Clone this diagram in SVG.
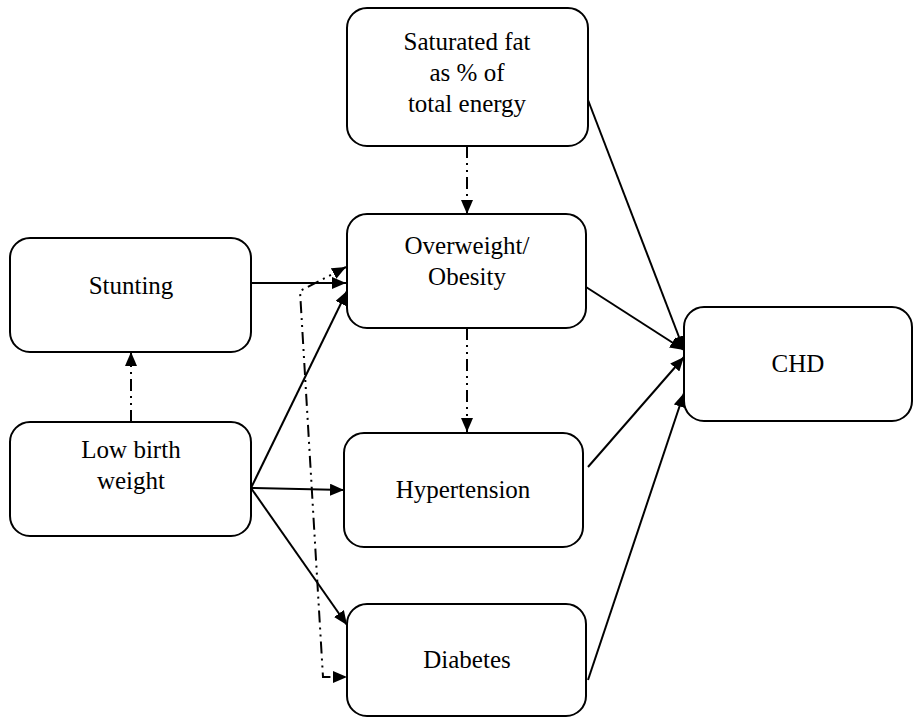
<svg xmlns="http://www.w3.org/2000/svg" width="915" height="718" viewBox="0 0 915 718">
<style>
.box{fill:#fff;stroke:#000;stroke-width:2}
text{font-family:'Liberation Serif','Times New Roman',serif;font-size:25px;fill:#000;text-anchor:middle}
.c{fill:none;stroke:#000;stroke-width:2}
.dd{fill:none;stroke:#000;stroke-width:2;stroke-dasharray:12 5 2 5 2 5}
</style>
<defs>
<marker id="ah" viewBox="0 0 14 12" refX="14" refY="6" markerWidth="14" markerHeight="12" markerUnits="userSpaceOnUse" orient="auto-start-reverse">
<path d="M0,0 L14,6 L0,12 Z" fill="#000"/>
</marker>
</defs>
<rect width="915" height="718" fill="#fff"/>
<g id="satfat"><rect class="box" x="347" y="8" width="241" height="138" rx="20"/>
<text x="467" y="50">Saturated fat</text><text x="467" y="81">as % of</text><text x="467" y="112">total energy</text></g>
<g id="overweight"><rect class="box" x="347" y="214" width="239" height="114" rx="20"/>
<text x="467" y="254">Overweight/</text><text x="467" y="285">Obesity</text></g>
<g id="stunting"><rect class="box" x="10" y="238" width="241" height="114" rx="20"/>
<text x="131" y="294">Stunting</text></g>
<g id="lbw"><rect class="box" x="10" y="422" width="241" height="114" rx="20"/>
<text x="131" y="458">Low birth</text><text x="131" y="489">weight</text></g>
<g id="hypertension"><rect class="box" x="344" y="433" width="239" height="114" rx="20"/>
<text x="463" y="498">Hypertension</text></g>
<g id="diabetes"><rect class="box" x="347" y="604" width="239" height="112" rx="20"/>
<text x="467" y="668">Diabetes</text></g>
<g id="chd"><rect class="box" x="684" y="307" width="228" height="114" rx="20"/>
<text x="798" y="372">CHD</text></g>
<g id="connectors">
<path class="dd" d="M467,146 L467,214" marker-end="url(#ah)"/>
<path class="dd" d="M467,328 L467,432" marker-end="url(#ah)"/>
<path class="dd" d="M131,422 L131,352" marker-end="url(#ah)"/>
<path class="dd" d="M346,267 L300,291 L323,677 L347,677" marker-start="url(#ah)" marker-end="url(#ah)"/>
<path class="c" d="M251,283 L346,283" marker-end="url(#ah)"/>
<path class="c" d="M251,488 L347,291" marker-end="url(#ah)"/>
<path class="c" d="M251,488 L344,490" marker-end="url(#ah)"/>
<path class="c" d="M251,488 L347,625" marker-end="url(#ah)"/>
<path class="c" d="M588,100 L684,350" marker-end="url(#ah)"/>
<path class="c" d="M586,287 L684,350" marker-end="url(#ah)"/>
<path class="c" d="M588,467 L684,357" marker-end="url(#ah)"/>
<path class="c" d="M588,680 L684,393" marker-end="url(#ah)"/>
</g>
</svg>
